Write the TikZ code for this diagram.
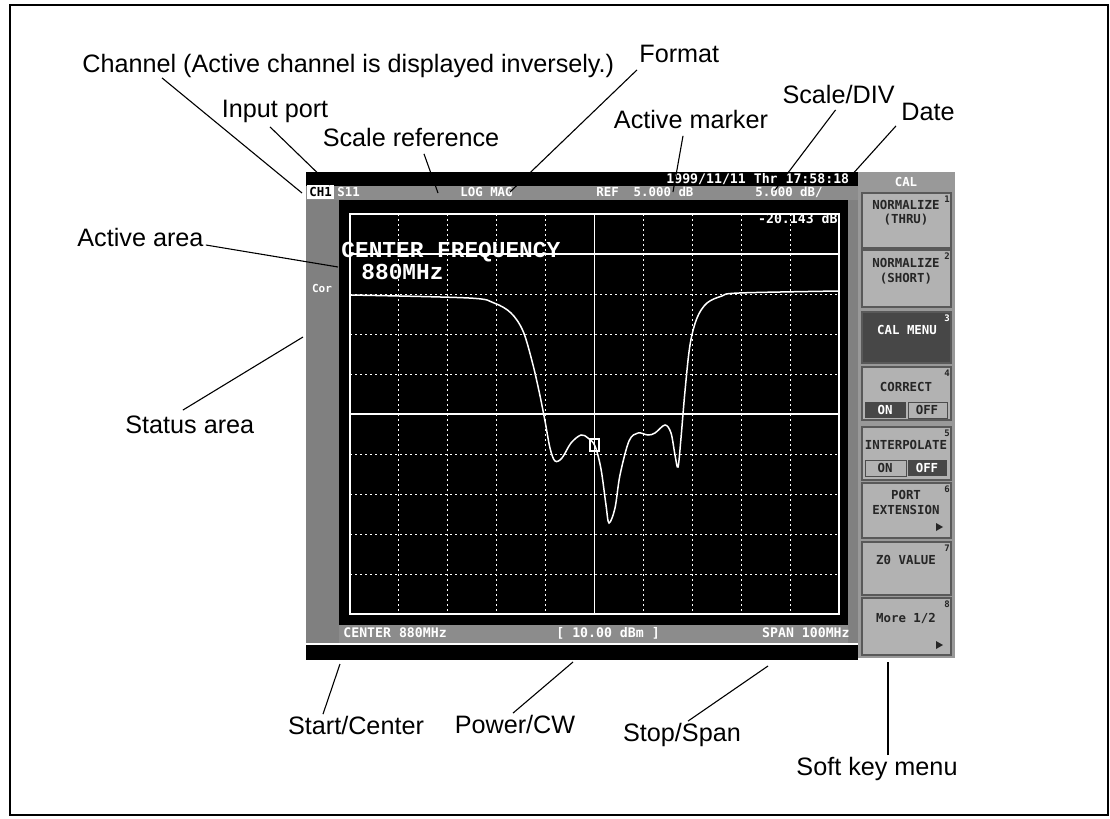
\documentclass[tikz,border=0pt]{standalone}
\usepackage{fontspec}
\setmainfont{Liberation Sans}
\newfontfamily\lcd{DejaVu Sans Mono}
\newfontfamily\crt{Liberation Mono}
\usepackage{tikz}
\usetikzlibrary{calc, positioning}

\begin{document}
\begin{tikzpicture}[
			x=0.5pt, y=-0.5pt,
			lbl/.style={font=\fontsize{12.6}{14}\selectfont, inner sep=1pt, text height=9pt, text depth=2.5pt},
			leader/.style={draw, line width=0.55pt},
			scr/.style={font=\lcd\bfseries\fontsize{6.6}{7}\selectfont, text=white, inner sep=0pt},
			row/.style={scr, font=\lcd\bfseries\fontsize{6.2}{7}\selectfont, anchor=west},
			key/.style={draw=black!65, fill=black!30, line width=0.6pt},
			keytxt/.style={font=\lcd\bfseries\fontsize{6.2}{7}\selectfont, text=black!85, inner sep=0pt},
			keynum/.style={font=\lcd\bfseries\fontsize{4.5}{5}\selectfont, text=black!85, inner sep=0pt},
			griddot/.style={white, line width=0.5pt, dash pattern=on 1pt off 1.5pt},
			gridsolid/.style={white, line width=0.6pt},
			trace/.style={white, line width=0.75pt}
			]

			\useasboundingbox (0,0) rectangle (1110,819);
			\fill[white] (0,0) rectangle (1110,819);
			\draw[line width=1.1pt] (10,5) rectangle (1108,815);

			% L'ecran
			\fill[black] (306,172) rectangle (858,186);
			\fill[black!45] (306,186) rectangle (858,200);
			\fill[black!50] (306,200) rectangle (339,643);
			\fill[black!50] (848,200) rectangle (858,643);
			\fill[black] (339,200) rectangle (848,625);
			\fill[black!45] (339,625) rectangle (848,643);
			\fill[black] (306,645) rectangle (858,660);

			% La grille
			\foreach \i in {1,...,9} \draw[griddot] ({350+48.9*\i},214) -- ({350+48.9*\i},614);
			\foreach \j in {1,...,9} \draw[griddot] (350,{214+40*\j}) -- (839,{214+40*\j});
			\draw[gridsolid] (350,214) rectangle (839,614);
			\draw[gridsolid] (350,254) -- (839,254);
			\draw[gridsolid] (350,414) -- (839,414);
			\draw[gridsolid] (594.5,214) -- (594.5,614);

			% La courbe
			\draw[trace] plot[smooth, tension=0.55] coordinates {(350,295) (469,298) (494,303) (511,313) (523,331) (532,361) (539,391) (545,421) (550,448) (555,461) (562,458) (571,443) (581,435) (588,438) (595,446) (601,469) (606,505) (609,523) (615,508) (620,475) (629,441) (638,433) (648,435) (655,433) (665,425) (671,433) (675,455) (678,467) (681,438) (685,391) (690,345) (697,318) (707,303) (722,296) (739,293) (839,291)};
			\draw[white, line width=0.6pt] (590,439) rectangle (599,451);

			% Les textes de l'ecran
			\node[scr, anchor=west] (date) at (666,179) {1999/11/11 Thr 17:58:18};
			\node[row, fill=white, text=black, inner xsep=1pt, inner ysep=1pt] (chn) at (307,192) {CH1};
			\node[row] (port) at (337,192) {S11};
			\node[row] (fmt) at (460,192) {LOG MAG};
			\node[row] (ref) at (596,192) {REF~~5.000 dB};
			\node[row] (sdiv) at (755,192) {5.000 dB/};
			\node[scr, anchor=east] (mval) at (838,219) {-20.143 dB};
			\node[font=\crt\bfseries\fontsize{11.4}{12}\selectfont, text=white, anchor=west, inner sep=0pt] (cf) at (341,252) {CENTER FREQUENCY};
			\node[font=\crt\bfseries\fontsize{11.4}{12}\selectfont, text=white, anchor=west, inner sep=0pt] (cfv) at (361,272) {880MHz};
			\node[scr, font=\lcd\bfseries\fontsize{5.5}{6}\selectfont] (cor) at (322,288) {Cor};
			\node[scr, anchor=west] (cen) at (343,633) {CENTER 880MHz};
			\node[scr, anchor=west] (pwr) at (556,633) {[ 10.00 dBm ]};
			\node[scr, anchor=east] (span) at (850,633) {SPAN 100MHz};

			% Le menu des touches
			\fill[black!40] (858,172) rectangle (955,658);
			\node[keytxt, text=white] (caltitle) at (906,182) {CAL};
			\foreach \n/\t/\b in {1/193/248, 2/250/307, 3/312/363, 4/367/420, 5/427/480, 6/483/538, 7/542/595, 8/598/655}{
				\draw[key] (862,\t) rectangle (951,\b);
				\node[keynum] (kn\n) at (947,\t+6) {\n};
			}
			\fill[black!72] (863,313) rectangle (950,362);
			\node[keynum, text=white] at (947,318) {3};
			\node[keytxt] (k1a) at (906,205) {NORMALIZE};
			\node[keytxt] (k1b) at (906,220) {(THRU)};
			\node[keytxt] (k2a) at (906,263) {NORMALIZE};
			\node[keytxt] (k2b) at (906,279) {(SHORT)};
			\node[keytxt, text=white] (k3a) at (907,330) {CAL MENU};
			\node[keytxt] (k4a) at (906,387) {CORRECT};
			\fill[black!72] (865,402) rectangle (906,418);
			\draw[black!70] (908,402) rectangle (947,418);
			\node[keytxt, text=white] (k4on) at (885,410) {ON};
			\node[keytxt] (k4off) at (927,410) {OFF};
			\node[keytxt] (k5a) at (906,445) {INTERPOLATE};
			\draw[black!70] (865,460) rectangle (906,476);
			\fill[black!72] (908,460) rectangle (947,476);
			\node[keytxt] (k5on) at (885,468) {ON};
			\node[keytxt, text=white] (k5off) at (927,468) {OFF};
			\node[keytxt] (k6a) at (906,495) {PORT};
			\node[keytxt] (k6b) at (906,510) {EXTENSION};
			\fill[black!85] (936,523) -- (943,527) -- (936,531) -- cycle;
			\node[keytxt] (k7a) at (906,560) {Z0 VALUE};
			\node[keytxt] (k8a) at (906,618) {More 1/2};
			\fill[black!85] (936,641) -- (943,645) -- (936,649) -- cycle;

			% Les legendes
			\node[lbl, anchor=west] (chLbl) at (80,66) {Channel (Active channel is displayed inversely.)};
			\node[lbl, anchor=west] (fmtLbl) at (637,56) {Format};
			\node[lbl] (portLbl) at (275,111) {Input port};
			\node[lbl] (refLbl) at (411,140) {Scale reference};
			\node[lbl] (markLbl) at (691,122) {Active marker};
			\node[lbl, anchor=east] (divLbl) at (897,97) {Scale/DIV};
			\node[lbl, anchor=west] (dateLbl) at (899,114) {Date};
			\node[lbl, anchor=west] (actLbl) at (75,240) {Active area};
			\node[lbl, anchor=west] (statLbl) at (123,427) {Status area};
			\node[lbl] (startLbl) at (356,728) {Start/Center};
			\node[lbl] (powLbl) at (515,727) {Power/CW};
			\node[lbl] (stopLbl) at (682,735) {Stop/Span};
			\node[lbl] (softLbl) at (877,769) {Soft key menu};

			% Les pointes
			\coordinate (chTip) at (302,193);
			\coordinate (portTip) at (330,185);
			\coordinate (refTip) at (438,193);
			\coordinate (fmtTip) at (510,192);
			\coordinate (markTip) at (673,192);
			\coordinate (divTip) at (775,190);
			\coordinate (dateTip) at (850,177);
			\coordinate (actTip) at (338,267);
			\coordinate (statTip) at (303,337);
			\coordinate (startTip) at (340,664);
			\coordinate (powTip) at (573,662);
			\coordinate (stopTip) at (768,666);
			\coordinate (softTip) at (888,662);

			% Les traits
			\draw[leader] ($(chLbl.south west)+(82,-2)$) -- (chTip);
			\draw[leader] ($(portLbl.south)+(-5,2)$) -- (portTip);
			\draw[leader] ($(refLbl.south)+(13,0)$) -- (refTip);
			\draw[leader] (fmtLbl.south west) -- (fmtTip);
			\draw[leader] ($(markLbl.south)+(-8,0)$) -- (markTip);
			\draw[leader] ($(divLbl.south)+(-3,-1)$) -- (divTip);
			\draw[leader] ($(dateLbl.south west)+(-3,-2)$) -- (dateTip);
			\draw[leader] ($(actLbl.east)+(0,5)$) -- (actTip);
			\draw[leader] ($(statLbl.north)+(-7,-3)$) -- (statTip);
			\draw[leader] ($(startLbl.north)+(-33,0)$) -- (startTip);
			\draw[leader] ($(powLbl.north)+(-2,0)$) -- (powTip);
			\draw[leader] ($(stopLbl.north)+(6,0)$) -- (stopTip);
			\draw[leader] ($(softLbl.north)+(11,0)$) -- (softTip);
		\end{tikzpicture}
\end{document}
